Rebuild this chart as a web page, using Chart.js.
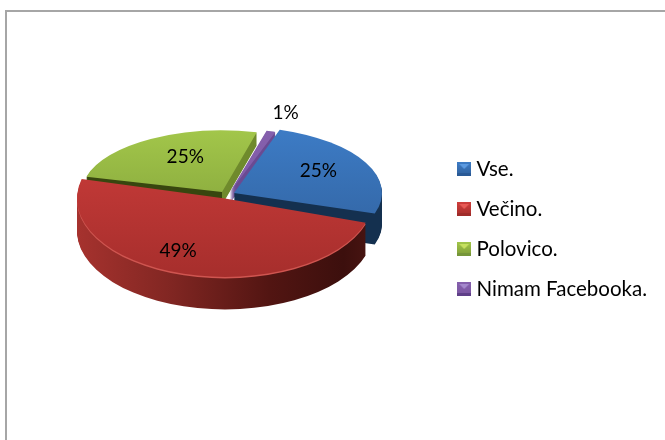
<!DOCTYPE html>
<html><head><meta charset="utf-8">
<style>html,body{margin:0;padding:0;background:#fff}#w{width:665px;height:440px;position:relative}</style>
<script src="https://cdn.jsdelivr.net/npm/chart.js@4"></script></head>
<body><div id="w"><canvas id="c" width="665" height="440"></canvas></div>
<script>
const categories = ['Vse.', 'Večino.', 'Polovico.', 'Nimam Facebooka.'];
const percentValues = [25, 49, 25, 1];
const baseColors = ['#3a75bb', '#bd3532', '#8db03f', '#7a55a0'];

// look of each slice, same order as categories
const sliceStyles = [
  {ax:234, ay:193, rx:148, k:.45, depth:31, top:['#3d7cc6','#30609c'], wall:[[0,'#14304f'],[1,'#14304f']], nudge:[0,-3], marker:['#5c9ae0','#2a5a96']},
  {ax:225, ay:200, rx:148, k:.53, depth:31, top:['#cf3e3c','#a62e2c'], wall:[[0,'#a6322e'],[.3,'#832723'],[.65,'#521512'],[.9,'#3c0f0d'],[1,'#4a1512']], nudge:[-19,0], rim:'#cf5550', marker:['#e85a55','#a02c2a']},
  {ax:222, ay:192, rx:140, k:.44, depth:13, top:['#a2c64a','#7d9b37'], wall:[[0,'#38460f'],[.5,'#38460f'],[.5,'#6f8a2c'],[1,'#6f8a2c']], nudge:[11,0], marker:['#c6e060','#76963a']},
  {ax:230, ay:192, rx:147, k:.43, depth:11, top:['#8560ad','#7a55a0'], wall:[[0,'#6a4a92'],[1,'#6a4a92']], nudge:[1,2], marker:['#a488cc','#5f3f88']}
];
const drawOrder = [2, 3, 0, 1];
const frameColor = '#a6a6a6';
const labelFont = '19px Lato, "Open Sans", sans-serif';

function markerImage(s){
  const c=document.createElement('canvas'); c.width=14; c.height=14;
  const x=c.getContext('2d');
  const g=x.createLinearGradient(0,0,0,14); g.addColorStop(0,s.top[0]); g.addColorStop(1,s.top[1]);
  x.fillStyle=g; x.fillRect(0,0,14,14);
  x.fillStyle=s.marker[0]; x.beginPath(); x.moveTo(2,2); x.lineTo(12,2); x.lineTo(7,7); x.closePath(); x.fill();
  x.fillStyle=s.marker[1]; x.fillRect(0,11,14,3);
  return c;
}

function drawSlice(ctx, arc, s, yShift, fill){
  const sc=s.rx/arc.outerRadius;
  const sy=sc*s.k;
  const saved=arc.options;
  ctx.save();
  ctx.translate(s.ax, s.ay+yShift);
  ctx.scale(sc, sy);
  ctx.translate(-arc.x, -arc.y);
  const o=Object.create(saved);
  o.backgroundColor=fill(p=>[(p[0]-s.ax)/sc+arc.x,(p[1]-s.ay-yShift)/sy+arc.y]);
  o.borderWidth=0;
  arc.options=o;
  arc.draw(ctx);
  arc.options=saved;
  ctx.restore();
}

const pie3d = {
  id:'pie3d',
  beforeDraw(chart){
    const ctx=chart.ctx;
    ctx.save();
    ctx.strokeStyle=frameColor; ctx.lineWidth=2;
    ctx.beginPath(); ctx.moveTo(6,440); ctx.lineTo(6,11); ctx.lineTo(665,11); ctx.stroke();
    ctx.restore();
  },
  beforeDatasetsDraw(chart){
    const ctx=chart.ctx, meta=chart.getDatasetMeta(0);
    drawOrder.forEach(i=>{
      const s=sliceStyles[i], arc=meta.data[i];
      const wallFill=toLocal=>{
        const a=toLocal([s.ax-s.rx,0]), b=toLocal([s.ax+s.rx,0]);
        const g=ctx.createLinearGradient(a[0],0,b[0],0);
        s.wall.forEach(w=>g.addColorStop(w[0],w[1]));
        return g;
      };
      for(let d=s.depth;d>=1;d--) drawSlice(ctx,arc,s,d,wallFill);
      if(s.rim) drawSlice(ctx,arc,s,0,()=>s.rim);
      const topFill=toLocal=>{
        const a=toLocal([0,s.ay-s.rx*s.k]), b=toLocal([0,s.ay+s.rx*s.k]);
        const g=ctx.createLinearGradient(0,a[1],0,b[1]);
        g.addColorStop(0,s.top[0]); g.addColorStop(1,s.top[1]);
        return g;
      };
      drawSlice(ctx,arc,s,s.rim?-1.5:0,topFill);
    });
    ctx.save();
    ctx.fillStyle='#000'; ctx.font=labelFont; ctx.textAlign='center'; ctx.textBaseline='middle';
    const labelReach=[.64,.675,.67,1.33];
    meta.data.forEach((arc,i)=>{
      const s=sliceStyles[i], mid=(arc.startAngle+arc.endAngle)/2, f=labelReach[i];
      ctx.fillText(percentValues[i]+'%', s.ax+Math.cos(mid)*s.rx*f+s.nudge[0], s.ay+Math.sin(mid)*s.rx*s.k*f+s.nudge[1]);
    });
    ctx.restore();
    return false;
  }
};

new Chart(document.getElementById('c'),{
  type:'pie',
  data:{labels:categories,datasets:[{data:percentValues,backgroundColor:baseColors,borderWidth:0}]},
  options:{
    responsive:false,animation:false,rotation:18,
    layout:{padding:{top:18,right:8,left:0,bottom:0}},
    plugins:{
      tooltip:{enabled:false},
      legend:{
        position:'right',
        labels:{
          font:{family:'Lato, "Open Sans", sans-serif',size:20.5},
          color:'#000',usePointStyle:true,boxWidth:4,boxHeight:14,padding:19.5,
          generateLabels(chart){
            return categories.map((t,i)=>({text:t,fillStyle:baseColors[i],strokeStyle:baseColors[i],lineWidth:0,pointStyle:markerImage(sliceStyles[i]),index:i,hidden:false}));
          }
        }
      }
    }
  },
  plugins:[pie3d]
});
</script></body></html>
